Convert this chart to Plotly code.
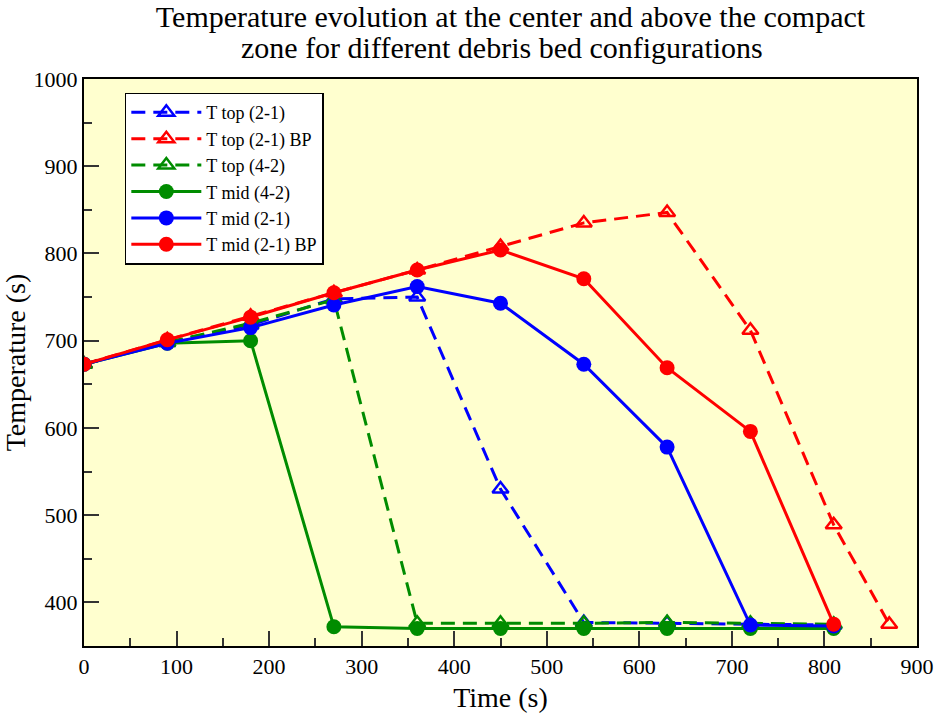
import plotly.graph_objects as go

time_main = [0, 90, 180, 270, 360, 450, 540, 630, 720, 810]
time_bp_top = [0, 90, 180, 270, 360, 450, 540, 630, 720, 810, 870]

t_top_21 = [673, 698, 718, 748, 750, 530, 377, 376, 375, 374]
t_top_21_bp = [673, 701, 728, 755, 781, 808, 835, 847, 712, 489, 375]
t_top_42 = [673, 698, 720, 747, 376, 376, 376, 377, 376, 375]
t_mid_42 = [673, 697, 700, 372, 370, 370, 370, 370, 370, 370]
t_mid_21 = [673, 697, 715, 741, 762, 743, 673, 578, 374, 373]
t_mid_21_bp = [673, 701, 727, 755, 781, 804, 771, 669, 596, 375]

x_ticks = [0, 100, 200, 300, 400, 500, 600, 700, 800, 900]
y_ticks = [400, 500, 600, 700, 800, 900, 1000]

title_line1 = "Temperature evolution at the center and above the compact"
title_line2 = "zone for different debris bed configurations"

SERIF = "Liberation Serif, Times New Roman, serif"

fig = go.Figure()

def add(name, x, y, color, dashed):
    if dashed:
        fig.add_trace(go.Scatter(
            x=x, y=y, name=name, mode="lines+markers",
            line=dict(color=color, width=3, dash="14px,8px"),
            marker=dict(symbol="triangle-up-open", size=14, color=color,
                        line=dict(color=color, width=2.5)),
        ))
    else:
        fig.add_trace(go.Scatter(
            x=x, y=y, name=name, mode="lines+markers",
            line=dict(color=color, width=3),
            marker=dict(symbol="circle", size=15, color=color),
        ))

add("T top (2-1)", time_main, t_top_21, "#0000ff", True)
add("T top (2-1) BP", time_bp_top, t_top_21_bp, "#ff0000", True)
add("T top (4-2)", time_main, t_top_42, "#008c00", True)
add("T mid (4-2)", time_main, t_mid_42, "#008c00", False)
add("T mid (2-1)", time_main, t_mid_21, "#0000ff", False)
add("T mid (2-1) BP", time_main, t_mid_21_bp, "#ff0000", False)

fig.update_layout(
    width=937, height=713,
    margin=dict(l=84, r=20, t=79, b=67, autoexpand=False),
    paper_bgcolor="white",
    plot_bgcolor="#ffffcf",
    font=dict(family=SERIF, color="black", size=20),
    title=dict(
        text=title_line1,
        x=0.512, xanchor="center", xref="paper",
        y=1 - 16 / 713, yanchor="middle", yref="container",
        font=dict(family=SERIF, size=30, color="black"),
    ),
    annotations=[dict(
        text=title_line2, xref="paper", yref="paper",
        x=0.502, xanchor="center", y=(713 - 67 - 48) / (713 - 79 - 67), yanchor="middle",
        showarrow=False, font=dict(family=SERIF, size=30, color="black"),
    )],
    legend=dict(
        x=0.049, y=0.976, xanchor="left", yanchor="top",
        bgcolor="white", bordercolor="black", borderwidth=1.5,
        font=dict(family=SERIF, size=18, color="black"),
        tracegroupgap=0, itemwidth=70,
    ),
    showlegend=True,
)

fig.update_xaxes(
    range=[0, 900], tickvals=x_ticks, ticks="inside", ticklen=15, tickwidth=1.5,
    tickcolor="#333", showgrid=False, zeroline=False, automargin=False,
    showline=True, linecolor="black", linewidth=2, mirror=True,
    minor=dict(ticks="inside", ticklen=8, tickwidth=1.5, dtick=50, tickcolor="#333"),
    title=dict(text="Time (s)", font=dict(family=SERIF, size=28), standoff=10),
    tickfont=dict(family=SERIF, size=22),
)
fig.update_yaxes(
    range=[350, 1000], tickvals=y_ticks, ticks="inside", ticklen=15, tickwidth=1.5,
    tickcolor="#333", showgrid=False, zeroline=False, automargin=False,
    showline=True, linecolor="black", linewidth=2, mirror=True,
    minor=dict(ticks="inside", ticklen=8, tickwidth=1.5, dtick=50, tickcolor="#333"),
    title=dict(text="Temperature (s)", font=dict(family=SERIF, size=28), standoff=8),
    tickfont=dict(family=SERIF, size=22),
)

fig.write_html("out.html")
